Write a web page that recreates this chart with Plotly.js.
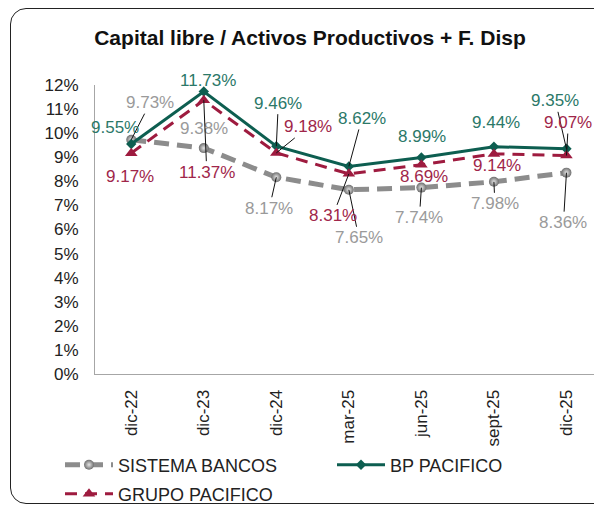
<!DOCTYPE html>
<html>
<head>
<meta charset="utf-8">
<script src="https://cdn.plot.ly/plotly-3.0.1.min.js"></script>
<style>
  body { margin: 0; background: #fff; }
  #wrap { position: relative; width: 594px; height: 507px; overflow: hidden; }
  #chart { width: 594px; height: 507px; }
  #frame {
    position: absolute; left: 10px; top: 8px; width: 640px; height: 494px;
    border: 1.5px solid #222; border-radius: 16px; pointer-events: none;
  }
</style>
</head>
<body>
<div id="wrap">
  <div id="chart"></div>
  <div id="frame"></div>
</div>
<script>
// periodos y valores (%)
var periodos = ['dic-22', 'dic-23', 'dic-24', 'mar-25', 'jun-25', 'sept-25', 'dic-25'];
var sistemaBancos = [9.73, 9.38, 8.17, 7.65, 7.74, 7.98, 8.36];
var bpPacifico = [9.55, 11.73, 9.46, 8.62, 8.99, 9.44, 9.35];
var grupoPacifico = [9.17, 11.37, 9.18, 8.31, 8.69, 9.14, 9.07];
var nombres = ['SISTEMA BANCOS', 'BP PACIFICO', 'GRUPO PACIFICO'];

// desplazamiento de cada etiqueta (px) y si lleva linea guia
var offSistema = [[19, -37, 1], [0, -20, 0], [-7, 31, 1], [10, 48, 1], [-2, 30, 1], [1, 22, 1], [-3, 50, 1]];
var offBp = [[-16, -17, 0], [4, -11, 0], [2, -43, 1], [13, -48, 1], [1, -21, 0], [2, -24, 0], [-11, -48, 1]];
var offGrupo = [[-1, 23, 0], [3, 72, 1], [32, -26, 1], [-16, 42, 1], [3, 12, 0], [3, 12, 0], [2, -33, 1]];

var FONT = 'Liberation Sans, Arial, sans-serif';
var cGris = '#8c8c8c', cVerde = '#0d5e50', cRojo = '#9e1b3f';
var tGris = '#9a9a9a', tVerde = '#2b7868', tRojo = '#a0264a';

var idx = periodos.map(function(p, i) { return i; });

var traces = [
  {
    x: idx, y: sistemaBancos, name: nombres[0], type: 'scatter', mode: 'lines+markers',
    line: { color: cGris, width: 5, dash: '15px,8px' },
    marker: { symbol: 'circle', size: 10, color: '#6f6f6f', gradient: { type: 'radial', color: '#e6e6e6' } },
    legend: 'legend'
  },
  {
    x: idx, y: bpPacifico, name: nombres[1], type: 'scatter', mode: 'lines+markers',
    line: { color: cVerde, width: 3 },
    marker: { symbol: 'diamond', size: 8, color: cVerde },
    legend: 'legend2'
  },
  {
    x: idx, y: grupoPacifico, name: nombres[2], type: 'scatter', mode: 'lines+markers',
    line: { color: cRojo, width: 3, dash: '12px,8px' },
    marker: { symbol: 'triangle-up', size: 11, color: cRojo },
    legend: 'legend3'
  }
];

var annotations = [];
function etiquetas(vals, offs, color) {
  vals.forEach(function(v, i) {
    annotations.push({
      x: i, y: v, xref: 'x', yref: 'y',
      text: v.toFixed(2) + '%',
      showarrow: true, arrowhead: 0, arrowwidth: 1, standoff: 0,
      arrowcolor: offs[i][2] ? '#111' : 'rgba(0,0,0,0)',
      ax: offs[i][0], ay: offs[i][1],
      font: { family: FONT, size: 17, color: color }
    });
  });
}
etiquetas(sistemaBancos, offSistema, tGris);
etiquetas(bpPacifico, offBp, tVerde);
etiquetas(grupoPacifico, offGrupo, tRojo);

var legendBase = {
  orientation: 'h', xref: 'container', yref: 'container', xanchor: 'left', yanchor: 'middle',
  font: { family: FONT, size: 18, color: '#222' }, bgcolor: 'rgba(0,0,0,0)', itemwidth: 48
};

var layout = {
  width: 594, height: 507,
  margin: { l: 95, r: 0, t: 85, b: 133 },
  paper_bgcolor: '#fff', plot_bgcolor: '#fff',
  font: { family: FONT, size: 17, color: '#222' },
  title: {
    text: '<b>Capital libre / Activos Productivos + F. Disp</b>',
    font: { family: FONT, size: 21, color: '#111' },
    xref: 'container', yref: 'container', x: 310 / 594, y: 1 - 38 / 507,
    xanchor: 'center', yanchor: 'middle'
  },
  xaxis: {
    range: [-0.5, 6.38], tickmode: 'array', tickvals: idx, ticktext: periodos,
    tickangle: -90, showgrid: false, zeroline: false,
    showline: true, linecolor: '#a6a6a6', linewidth: 1, ticks: '',
    ticklabelstandoff: 8
  },
  yaxis: {
    range: [0, 12], dtick: 1, ticksuffix: '%', showgrid: false, zeroline: false,
    showline: true, linecolor: '#a6a6a6', linewidth: 1, ticks: '',
    ticklabelstandoff: 12
  },
  showlegend: true,
  legend: Object.assign({}, legendBase, { x: 60 / 594, y: 1 - 465 / 507 }),
  legend2: Object.assign({}, legendBase, { x: 332 / 594, y: 1 - 465 / 507 }),
  legend3: Object.assign({}, legendBase, { x: 60 / 594, y: 1 - 494 / 507 }),
  annotations: annotations
};

Plotly.newPlot('chart', traces, layout, { displayModeBar: false, responsive: false });
</script>
</body>
</html>
